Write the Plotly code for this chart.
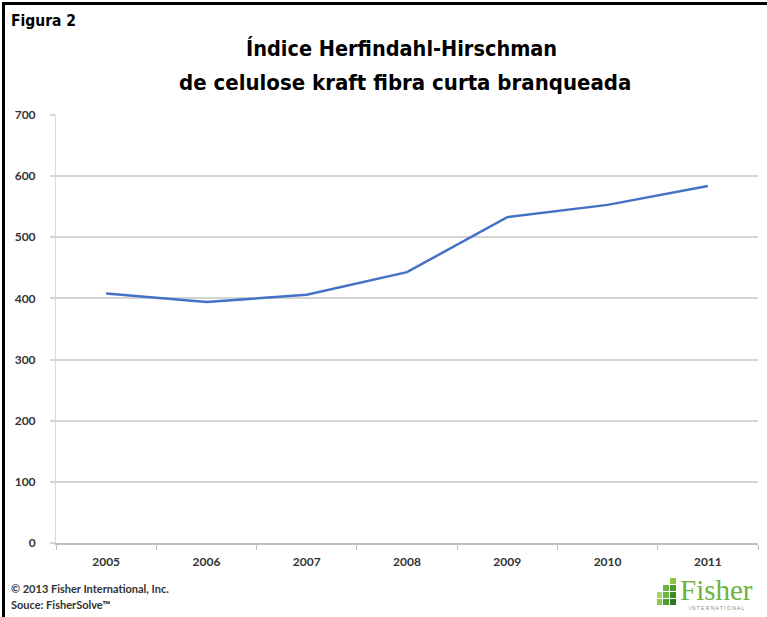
import plotly.graph_objects as go

years = ["2005", "2006", "2007", "2008", "2009", "2010", "2011"]
hhi = [408, 394, 406, 443, 533, 553, 584]
y_ticks = [0, 100, 200, 300, 400, 500, 600, 700]

W, H = 767, 617
L, R, T, B = 56, 9, 115, 74
PW = W - L - R
PH = H - T - B

def px(x):
    return (x - L) / PW

def py(y):
    return (H - B - y) / PH

fig = go.Figure()
fig.add_trace(go.Scatter(
    x=years, y=hhi, mode="lines",
    line=dict(color="#4472C4", width=2.5),
    hoverinfo="x+y", showlegend=False,
))

title_font = dict(family="DejaVu Sans Condensed, Liberation Sans Narrow", size=21.5, color="#000000")
foot_font = dict(family="Lato, Open Sans", size=11, color="#333333", weight="bold")
annotations = [
    dict(text="<b>Índice Herfindahl-Hirschman</b>", x=px(401), y=py(48), xref="paper", yref="paper",
         showarrow=False, font=title_font, xanchor="center", yanchor="middle"),
    dict(text="<b>de celulose kraft fibra curta branqueada</b>", x=px(405), y=py(82), xref="paper", yref="paper",
         showarrow=False, font=dict(family="DejaVu Sans Condensed", size=22, color="#000000"),
         xanchor="center", yanchor="middle"),
    dict(text="<b>Figura 2</b>", x=px(9), y=py(21), xref="paper", yref="paper", showarrow=False,
         font=dict(family="DejaVu Sans Condensed", size=15.5, color="#000000"),
         xanchor="left", yanchor="middle"),
    dict(text="© 2013 Fisher International, Inc.", x=px(9), y=py(588), xref="paper", yref="paper",
         showarrow=False, font=foot_font, xanchor="left", yanchor="middle"),
    dict(text="Souce: FisherSolve™", x=px(9), y=py(604), xref="paper", yref="paper",
         showarrow=False, font=foot_font, xanchor="left", yanchor="middle"),
    dict(text="Fisher", x=px(716), y=py(590), xref="paper", yref="paper", showarrow=False,
         font=dict(family="Liberation Serif, DejaVu Serif", size=29, color="#6DB33F"),
         xanchor="center", yanchor="middle"),
    dict(text="I N T E R N A T I O N A L", x=px(716), y=py(608), xref="paper", yref="paper", showarrow=False,
         font=dict(family="Liberation Sans, Arial", size=5, color="#888888"),
         xanchor="center", yanchor="middle"),
]

shapes = [
    dict(type="line", xref="paper", yref="paper", x0=px(3.5), x1=px(3.5), y0=py(3), y1=py(617),
         line=dict(color="#000000", width=3)),
    dict(type="line", xref="paper", yref="paper", x0=px(2), x1=px(767), y0=py(3.5), y1=py(3.5),
         line=dict(color="#000000", width=3)),
]
# logo icon blocks
blocks = [(670, 578, 676, 584), (663, 585, 669, 591), (670, 585, 676, 591),
          (657, 592, 662, 598), (663, 592, 669, 598), (670, 592, 676, 598),
          (657, 599, 662, 605), (663, 599, 669, 605), (670, 599, 676, 605)]
greens = ["#8DC63F", "#6DB33F", "#4E9A2E", "#A6D66B", "#6DB33F", "#3F8A26", "#8DC63F", "#4E9A2E", "#2F7A1E"]
for (x0, y0, x1, y1), c in zip(blocks, greens):
    shapes.append(dict(type="rect", xref="paper", yref="paper", x0=px(x0), x1=px(x1), y0=py(y1), y1=py(y0),
                       fillcolor=c, line=dict(width=0)))

fig.update_layout(
    width=W, height=H,
    margin=dict(l=L, r=R, t=T, b=B),
    paper_bgcolor="#ffffff", plot_bgcolor="#ffffff",
    annotations=annotations, shapes=shapes,
    xaxis=dict(
        type="category", range=[-0.5, 6.5], tickson="boundaries",
        ticks="outside", ticklen=5, tickcolor="#BFBFBF", tickwidth=1,
        showgrid=False, showline=True, linecolor="#BFBFBF", linewidth=2,
        tickfont=dict(family="Lato, Open Sans", size=12, color="#333333", weight="bold"),
        ticklabelstandoff=7,
    ),
    yaxis=dict(
        range=[0, 700], tickvals=y_ticks, ticktext=[str(v) for v in y_ticks],
        showgrid=True, gridcolor="#D4D4D4", gridwidth=2,
        ticks="outside", ticklen=5, tickcolor="#D4D4D4", tickwidth=2,
        showline=True, linecolor="#D9D9D9", linewidth=1, zeroline=False,
        tickfont=dict(family="Lato, Open Sans", size=12, color="#333333", weight="bold"),
        ticklabelstandoff=12,
    ),
)

fig.write_html("out.html", config={"displayModeBar": False},
               post_script="document.body.style.margin='0';document.body.style.overflow='hidden';")
